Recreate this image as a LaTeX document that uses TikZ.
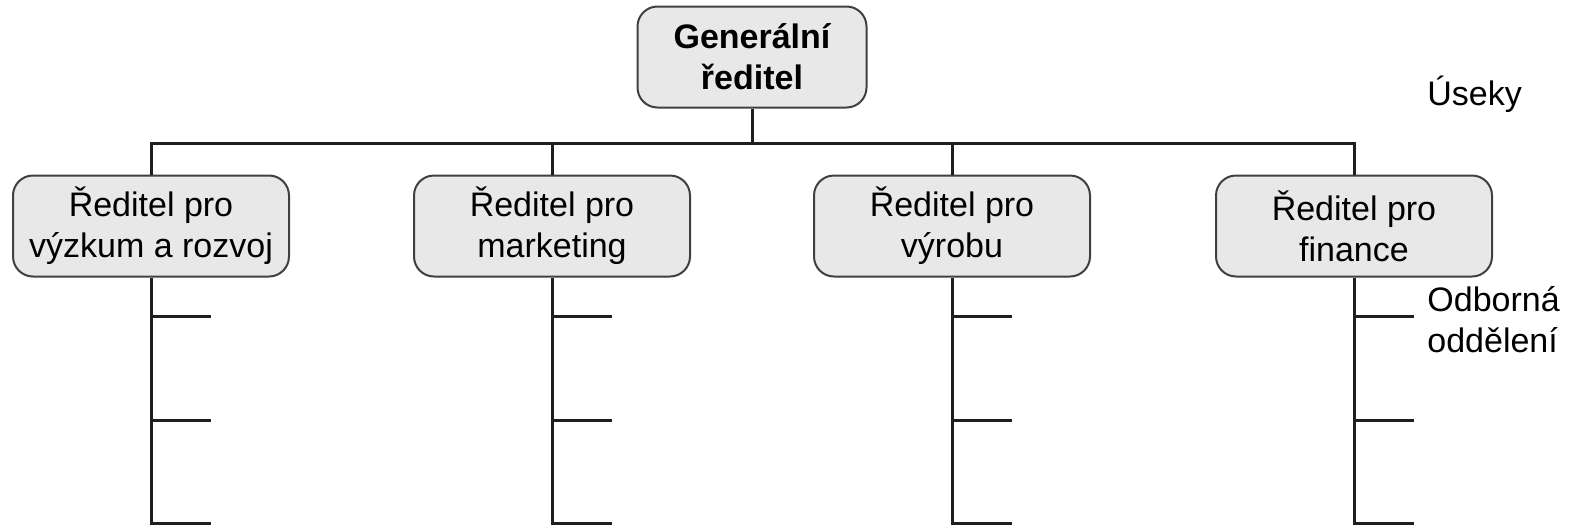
\documentclass[tikz,border=0pt]{standalone}
\usepackage{fontspec}
\setmainfont{Liberation Sans}
\begin{document}
\begin{tikzpicture}[x=0.5pt,y=-0.5pt,
  box/.style={draw=black!75,line width=1pt,fill=black!9,rounded corners=10pt,
    minimum height=50.5pt,inner sep=0pt,align=center,
    font=\fontsize{17}{20.5}\selectfont},
  conn/.style={draw=black!88,line width=1.5pt},
  lbl/.style={anchor=west,inner sep=0pt,align=left,font=\fontsize{17}{20.5}\selectfont}]
\useasboundingbox (0,0) rectangle (1571,526);
\node[box,minimum width=114.5pt,font=\fontsize{17}{20.5}\selectfont\bfseries] (g) at (752,57) {Generální\\ředitel};
\node[box,minimum width=138pt] (r1) at (151,226) {Ředitel pro\\výzkum a rozvoj};
\node[box,minimum width=138pt] (r2) at (552,226) {Ředitel pro\\marketing};
\node[box,minimum width=138pt] (r3) at (952,226) {Ředitel pro\\výrobu};
\node[box,minimum width=138pt] (r4) at (1354,226) {Ředitel pro\\finance};
\node[lbl] (useky) at (1427,94) {Úseky};
\node[lbl] (odd) at (1427,320) {Odborná\\oddělení};
\coordinate (bus) at (752,143);
\draw[conn] (g.south) -- (bus);
\foreach \n in {r1,r2,r3,r4}{
  \draw[conn] (g.south |- bus) -- (\n.north |- bus) -- (\n.north);
  \draw[conn] (\n.south) -- ([yshift=-123pt]\n.south) -- ++(60,0);
  \draw[conn] ([yshift=-19.5pt]\n.south) -- ++(60,0);
  \draw[conn] ([yshift=-71.5pt]\n.south) -- ++(60,0);
}
\end{tikzpicture}
\end{document}
